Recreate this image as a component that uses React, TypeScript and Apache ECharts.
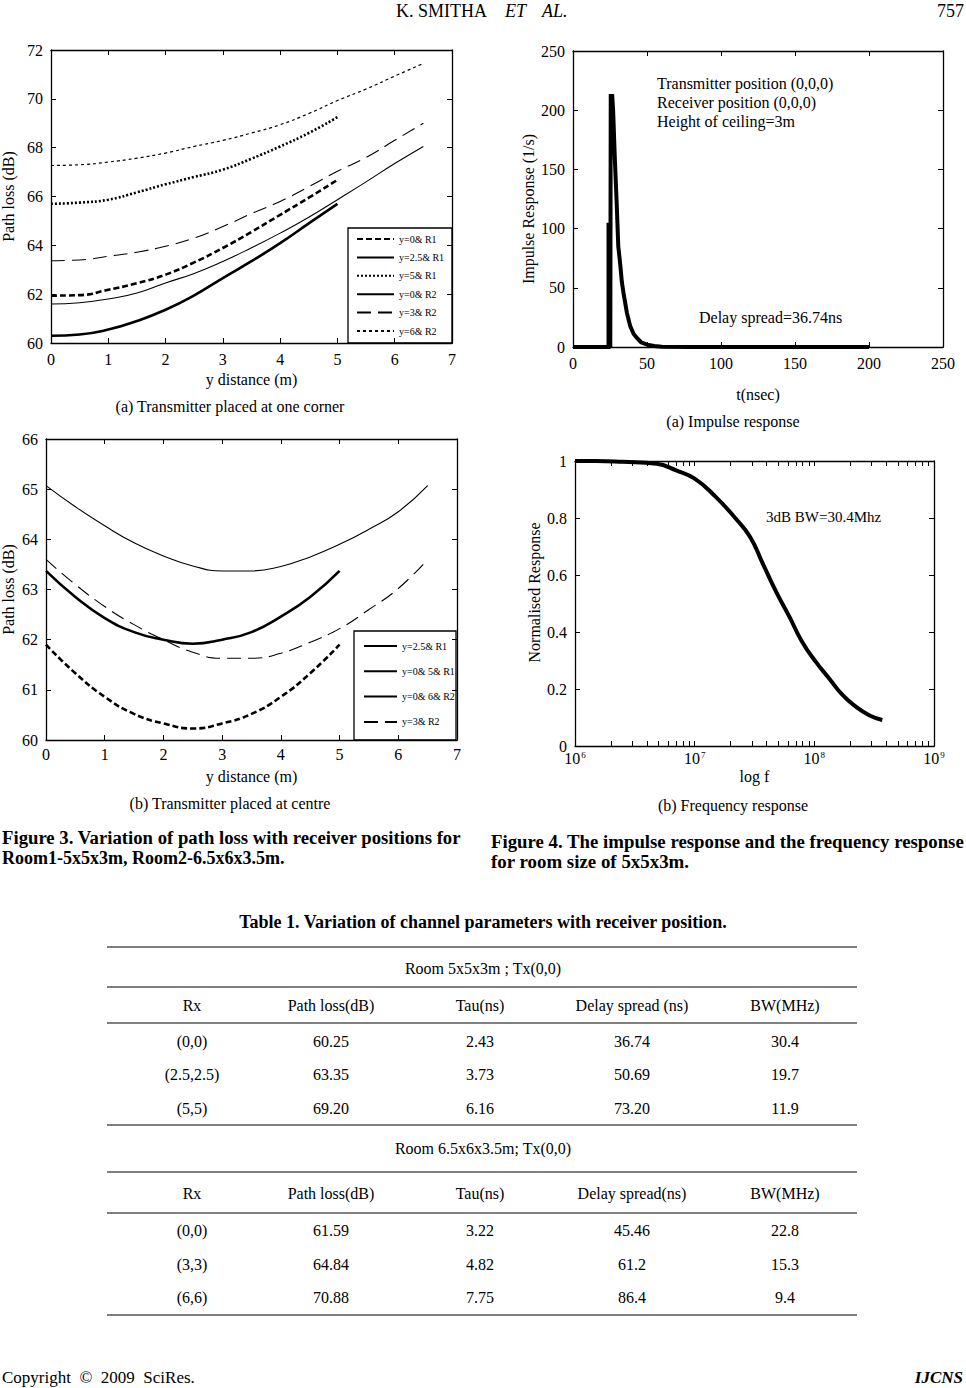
import { useEffect, useRef } from "react";
import * as echarts from "echarts";

const FONT = "'Liberation Serif', 'Times New Roman', Times, serif";

// ---------------- Figure 3(a): transmitter at one corner ----------------
const distR1 = [0, 0.5, 1, 1.5, 2, 2.5, 3, 3.5, 4, 4.5, 5];
const distR2 = [0, 0.5, 1, 1.5, 2, 2.5, 3, 3.5, 4, 4.5, 5, 5.5, 6, 6.5];
const cornerY0R1 = [61.94, 61.96, 62.18, 62.45, 62.8, 63.3, 63.89, 64.55, 65.25, 65.95, 66.68];
const cornerY25R1 = [60.3, 60.35, 60.55, 60.9, 61.36, 61.95, 62.66, 63.35, 64.09, 64.9, 65.7];
const cornerY5R1 = [65.7, 65.75, 65.87, 66.17, 66.5, 66.8, 67.1, 67.55, 68.05, 68.6, 69.25];
const cornerY0R2 = [61.6, 61.65, 61.8, 62.05, 62.46, 62.85, 63.34, 63.9, 64.5, 65.15, 65.87, 66.6, 67.35, 68.05];
const cornerY3R2 = [63.37, 63.4, 63.55, 63.72, 63.96, 64.3, 64.77, 65.3, 65.8, 66.4, 67.03, 67.6, 68.3, 69.0];
const cornerY6R2 = [67.27, 67.3, 67.41, 67.57, 67.78, 68.05, 68.3, 68.6, 68.94, 69.4, 69.93, 70.4, 70.93, 71.45];
const cornerNames = ["y=0& R1", "y=2.5& R1", "y=5& R1", "y=0& R2", "y=3& R2", "y=6& R2"];

// ---------------- Figure 3(b): transmitter at centre ----------------
const centreY25R1 = [61.9, 61.33, 60.86, 60.52, 60.33, 60.23, 60.33, 60.52, 60.86, 61.33, 61.9];
const centreY05R1 = [63.37, 62.85, 62.43, 62.15, 62.0, 61.92, 62.0, 62.15, 62.46, 62.85, 63.37];
const centreY06R2 = [65.07, 64.65, 64.27, 63.93, 63.67, 63.47, 63.37, 63.37, 63.46, 63.65, 63.9, 64.2, 64.55, 65.07];
const centreY3R2 = [63.6, 63.1, 62.66, 62.3, 62.0, 61.75, 61.63, 61.63, 61.73, 61.95, 62.22, 62.6, 63.02, 63.6];
const centreNames = ["y=2.5& R1", "y=0& 5& R1", "y=0& 6& R2", "y=3& R2"];

// ---------------- Figure 4(a): impulse response ----------------
const impulseT = [0, 24, 24, 25.2, 25.5, 26.5, 27.1, 28.3, 29.4, 30.6, 31.9, 33.0, 34.2, 36.4, 38.7, 41.0, 43.2, 46.0, 50.0, 55.0, 60.0, 80.0, 200];
const impulseH = [0, 0, 105, 0, 212, 212, 200, 158, 125, 85, 70, 55, 45, 29, 17.4, 11, 7.6, 4, 2, 0.8, 0.3, 0.1, 0];

// ---------------- Figure 4(b): frequency response ----------------
const freqHz = [1e6, 1.5e6, 2.5e6, 4.8e6, 7.0e6, 1.0e7, 1.5e7, 2.2e7, 2.9e7, 3.7e7, 4.8e7, 6.2e7, 7.9e7, 1.03e8, 1.33e8, 1.72e8, 2.22e8, 2.87e8, 3.7e8];
const normResp = [1.0, 1.0, 0.997, 0.99, 0.967, 0.938, 0.874, 0.798, 0.734, 0.641, 0.541, 0.453, 0.366, 0.295, 0.237, 0.179, 0.138, 0.108, 0.091];
const logMinorTicks = [1e6, 2e6, 3e6, 4e6, 5e6, 6e6, 7e6, 8e6, 9e6, 1e7, 2e7, 3e7, 4e7, 5e7, 6e7, 7e7, 8e7, 9e7, 1e8, 2e8, 3e8, 4e8, 5e8, 6e8, 7e8, 8e8, 9e8, 1e9];

// ---------------- Table 1 ----------------
const tableTitle = "Table 1. Variation of channel parameters with receiver position.";
const room1Title = "Room 5x5x3m ; Tx(0,0)";
const room1Header = ["Rx", "Path loss(dB)", "Tau(ns)", "Delay spread (ns)", "BW(MHz)"];
const room1Rows = [
  ["(0,0)", "60.25", "2.43", "36.74", "30.4"],
  ["(2.5,2.5)", "63.35", "3.73", "50.69", "19.7"],
  ["(5,5)", "69.20", "6.16", "73.20", "11.9"],
];
const room2Title = "Room 6.5x6x3.5m; Tx(0,0)";
const room2Header = ["Rx", "Path loss(dB)", "Tau(ns)", "Delay spread(ns)", "BW(MHz)"];
const room2Rows = [
  ["(0,0)", "61.59", "3.22", "45.46", "22.8"],
  ["(3,3)", "64.84", "4.82", "61.2", "15.3"],
  ["(6,6)", "70.88", "7.75", "86.4", "9.4"],
];

const zip = (xs: number[], ys: number[]) => xs.map((x, i) => [x, ys[i]]);

const labelStyle = { color: "#000", fontFamily: FONT, fontSize: 16 };
const axisLineBlack = { show: true, onZero: false, lineStyle: { color: "#000", width: 1.3 } };
const tickIn = (len = 5, custom?: number[]) => ({
  show: true,
  inside: true,
  length: len,
  lineStyle: { color: "#000", width: 1 },
  ...(custom ? { customValues: custom } : {}),
});

function boxX(gridIndex: number, cfg: any, name: string, nameGap: number, margin = 8) {
  const common: any = {
    gridIndex,
    type: cfg.type || "value",
    min: cfg.min,
    max: cfg.max,
    interval: cfg.interval,
    logBase: cfg.logBase,
    axisLine: axisLineBlack,
    axisTick: tickIn(5, cfg.ticks),
    splitLine: { show: false },
    minorTick: { show: false },
  };
  return [
    {
      ...common,
      position: "bottom",
      name,
      nameLocation: "middle",
      nameGap,
      nameMoveOverlap: false,
      nameTextStyle: { ...labelStyle },
      axisLabel: { ...labelStyle, margin, ...(cfg.label || {}) },
    },
    { ...common, position: "top", axisLabel: { show: false } },
  ];
}

function boxY(gridIndex: number, cfg: any, name: string, nameGap: number, namePad: number[] = [0, 0, 0, 0]) {
  const common: any = {
    gridIndex,
    type: "value",
    min: cfg.min,
    max: cfg.max,
    interval: cfg.interval,
    axisLine: axisLineBlack,
    axisTick: tickIn(5),
    splitLine: { show: false },
  };
  return [
    {
      ...common,
      position: "left",
      name,
      nameLocation: "middle",
      nameGap,
      nameMoveOverlap: false,
      nameTextStyle: { ...labelStyle, padding: namePad },
      axisLabel: { ...labelStyle, margin: 8 },
    },
    { ...common, position: "right", axisLabel: { show: false } },
  ];
}

const lineSeries = (name: string, data: number[][], xi: number, yi: number, width: number, type: any, smooth = true) => ({
  type: "line",
  name,
  data,
  xAxisIndex: xi,
  yAxisIndex: yi,
  symbol: "none",
  smooth,
  lineStyle: { color: "#000", width, type },
  itemStyle: { color: "#000" },
  emphasis: { disabled: true },
});

const txt = (text: string, x: number, y: number, o: any = {}) => ({
  type: "text",
  x,
  y,
  scaleX: o.scaleX || 1,
  silent: true,
  style: {
    text,
    fill: "#000",
    fontFamily: FONT,
    fontSize: o.size || 16,
    fontWeight: o.weight || "normal",
    fontStyle: o.italic ? "italic" : "normal",
    textAlign: o.align || "left",
    align: o.align || "left",
    textVerticalAlign: "middle",
    verticalAlign: "middle",
  },
});

const hline = (y: number, x1 = 107, x2 = 857) => ({
  type: "line",
  silent: true,
  shape: { x1, y1: y, x2, y2: y },
  style: { stroke: "#000", lineWidth: 1 },
});

function buildTable() {
  const colX = [192, 331, 480, 632, 785];
  const g: any[] = [];
  g.push(txt(tableTitle, 483, 922, { weight: "bold", align: "center", size: 18 }));
  const block = (top: number, title: string, header: string[], rows: string[][], ys: number[]) => {
    g.push(hline(top));
    g.push(txt(title, 483, ys[0], { align: "center" }));
    g.push(hline(ys[1]));
    header.forEach((h, i) => g.push(txt(h, colX[i], ys[2], { align: "center" })));
    g.push(hline(ys[3]));
    rows.forEach((r, ri) => r.forEach((c, ci) => g.push(txt(c, colX[ci], ys[4 + ri], { align: "center" }))));
  };
  block(947, room1Title, room1Header, room1Rows, [968, 987, 1005, 1023, 1041, 1074, 1108]);
  block(1125, room2Title, room2Header, room2Rows, [1148, 1172, 1193, 1213, 1230, 1264, 1297]);
  g.push(hline(1315));
  return g;
}

export default function App() {
  const ref = useRef<HTMLDivElement>(null);
  useEffect(() => {
    if (!ref.current) return;
    const chart = echarts.init(ref.current, null, { renderer: "svg", width: 966, height: 1388 });

    const grids = [
      { left: 51, top: 50, width: 401, height: 293 },
      { left: 46, top: 439, width: 411, height: 301 },
      { left: 573, top: 51, width: 370, height: 296 },
      { left: 575, top: 461, width: 359, height: 285 },
    ].map((g) => ({ ...g, show: false, containLabel: false, outerBoundsMode: "none" }));

    const xAxis = [
      ...boxX(0, { min: 0, max: 7, interval: 1 }, "y distance (m)", 28),
      ...boxX(1, { min: 0, max: 7, interval: 1 }, "y distance (m)", 28, 6),
      ...boxX(2, { min: 0, max: 250, interval: 50 }, "t(nsec)", 39),
      ...boxX(
        3,
        {
          type: "log",
          logBase: 10,
          min: 1e6,
          max: 1e9,
          ticks: logMinorTicks,
          label: {
            formatter: (v: number) => `{b|10}{s|${Math.round(Math.log10(v))}}`,
            rich: {
              b: { fontFamily: FONT, fontSize: 16, color: "#000" },
              s: { fontFamily: FONT, fontSize: 9, color: "#000", verticalAlign: "top", padding: [0, 0, 0, 1] },
            },
          },
        },
        "log f",
        22,
        4
      ),
    ];
    const yAxis = [
      ...boxY(0, { min: 60, max: 72, interval: 2 }, "Path loss (dB)", 35),
      ...boxY(1, { min: 60, max: 66, interval: 1 }, "Path loss (dB)", 30),
      ...boxY(2, { min: 0, max: 250, interval: 50 }, "Impulse Response (1/s)", 37, [0, 20, 0, 0]),
      ...boxY(3, { min: 0, max: 1, interval: 0.2 }, "Normalised Response", 33, [0, 0, 0, 22]),
    ];

    const series: any[] = [
      lineSeries(cornerNames[0], zip(distR1, cornerY0R1), 0, 0, 2.6, [6, 3]),
      lineSeries(cornerNames[1], zip(distR1, cornerY25R1), 0, 0, 2.6, "solid"),
      lineSeries(cornerNames[2], zip(distR1, cornerY5R1), 0, 0, 2.6, [2, 2]),
      lineSeries(cornerNames[3], zip(distR2, cornerY0R2), 0, 0, 1.1, "solid"),
      lineSeries(cornerNames[4], zip(distR2, cornerY3R2), 0, 0, 1.1, [14, 7]),
      lineSeries(cornerNames[5], zip(distR2, cornerY6R2), 0, 0, 1.2, [3, 3]),

      lineSeries(centreNames[0], zip(distR1, centreY25R1), 2, 2, 2.6, [6, 3]),
      lineSeries(centreNames[1], zip(distR1, centreY05R1), 2, 2, 2.6, "solid"),
      lineSeries(centreNames[2], zip(distR2, centreY06R2), 2, 2, 1.1, "solid"),
      lineSeries(centreNames[3] + " ", zip(distR2, centreY3R2), 2, 2, 1.1, [14, 7]),

      { ...lineSeries("impulse", zip(impulseT, impulseH), 4, 4, 4, "solid", false), lineStyle: { color: "#000", width: 4, join: "miter" } },
      lineSeries("freq", zip(freqHz, normResp), 6, 6, 4, "solid", true),
    ];

    const legendCommon = {
      orient: "vertical",
      itemWidth: 37,
      itemHeight: 10,
      selectedMode: false,
      padding: 0,
      itemStyle: { color: "transparent", borderColor: "transparent", borderWidth: 0, opacity: 0 },
      textStyle: { fontFamily: FONT, fontSize: 10, color: "#000" },
    };

    const graphic: any[] = [
      // header
      txt("K. SMITHA", 396, 11, { size: 18 }),
      txt("ET", 505, 11, { italic: true, size: 18 }),
      txt("AL.", 542, 11, { italic: true, size: 18 }),
      txt("757", 964, 11, { align: "right", size: 18 }),
      // legend boxes
      { type: "rect", silent: true, shape: { x: 348, y: 228, width: 104, height: 115 }, style: { fill: "transparent", stroke: "#000", lineWidth: 1.3 } },
      { type: "rect", silent: true, shape: { x: 354, y: 631, width: 102, height: 109 }, style: { fill: "transparent", stroke: "#000", lineWidth: 1.3 } },
      // annotations
      txt("Transmitter position (0,0,0)", 657, 83),
      txt("Receiver position (0,0,0)", 657, 102),
      txt("Height of ceiling=3m", 657, 121),
      txt("Delay spread=36.74ns", 699, 317),
      txt("3dB BW=30.4Mhz", 766, 517, { size: 15 }),
      // sub captions
      txt("(a) Transmitter placed at one corner", 230, 406, { align: "center" }),
      txt("(b) Transmitter placed at centre", 230, 803, { align: "center" }),
      txt("(a) Impulse response", 733, 421, { align: "center" }),
      txt("(b) Frequency response", 733, 805, { align: "center" }),
      // figure captions
      txt("Figure 3. Variation of path loss with receiver positions for", 2, 838, { weight: "bold", size: 18, scaleX: 1.04 }),
      txt("Room1-5x5x3m, Room2-6.5x6x3.5m.", 2, 858, { weight: "bold", size: 18 }),
      txt("Figure 4. The impulse response and the frequency response", 491, 842, { weight: "bold", size: 18, scaleX: 1.045 }),
      txt("for room size of 5x5x3m.", 491, 862, { weight: "bold", size: 18, scaleX: 1.05 }),
      ...buildTable(),
      // footer
      txt("Copyright  \u00A9  2009  SciRes.", 2, 1377, { size: 17 }),
      txt("IJCNS", 963, 1377, { weight: "bold", italic: true, align: "right", size: 17 }),
    ];

    chart.setOption({
      animation: false,
      backgroundColor: "#fff",
      textStyle: { fontFamily: FONT },
      grid: grids,
      xAxis,
      yAxis,
      legend: [
        { ...legendCommon, left: 356, top: 234, itemGap: 8.4, data: cornerNames },
        { ...legendCommon, left: 363, top: 641, itemGap: 15.3, itemWidth: 33, data: [centreNames[0], centreNames[1], centreNames[2], centreNames[3] + " "], formatter: (n: string) => n.trim() },
      ],
      series,
      graphic,
    });
    return () => chart.dispose();
  }, []);

  return <div ref={ref} style={{ position: "absolute", left: 0, top: 0, width: 966, height: 1388, background: "#fff" }} />;
}
